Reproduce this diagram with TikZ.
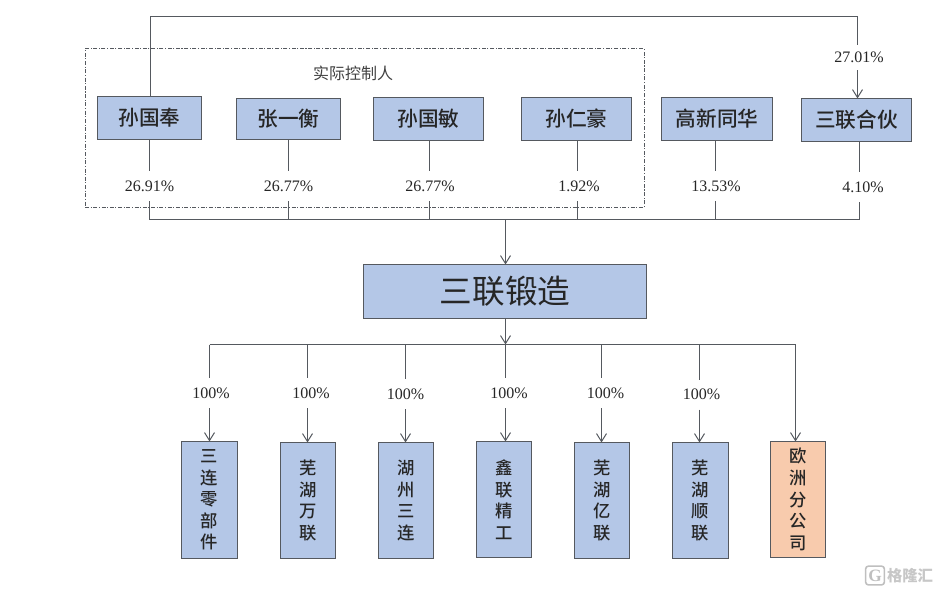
\documentclass[tikz,border=0pt]{standalone}
\usepackage{fontspec}
\setmainfont{Liberation Serif}
\newfontfamily\cjk{Noto Sans CJK SC}
\newfontfamily\cjkmed{Noto Sans CJK SC Medium}
\usetikzlibrary{arrows.meta}
\definecolor{boxblue}{HTML}{B4C7E7}
\definecolor{boxorange}{HTML}{F8CBAD}
\definecolor{edgegray}{HTML}{55595F}
\tikzset{
  holder/.style={draw=edgegray,line width=1pt,fill=boxblue,inner sep=0pt,outer sep=0pt,text=black!85,
    minimum height=32.25pt,font=\cjkmed\fontsize{15.5}{18}\selectfont},
  subsid/.style={draw=edgegray,line width=1pt,fill=boxblue,inner sep=0pt,outer sep=0pt,text=black!85,
    align=center,minimum width=41.25pt,minimum height=87pt,font=\cjkmed\fontsize{13}{16.2}\selectfont},
  pct/.style={inner sep=0pt,outer sep=0pt,minimum height=22.5pt,text=black!85,font=\fontsize{12}{14}\selectfont},
  conn/.style={draw=edgegray,line width=0.75pt},
  arr/.style={conn,-{Straight Barb[length=6pt,width=7.5pt]}}
}
\begin{document}
\begin{tikzpicture}[x=0.75pt,y=-0.75pt]
  \useasboundingbox (0,0) rectangle (939,592);

  % shareholders
  \node (ctrl) at (364.5,128) [draw=edgegray,line width=0.6pt,dash pattern=on 3pt off 1.2pt on 0.8pt off 1.2pt,
    minimum width=419.25pt,minimum height=119.25pt,inner sep=0pt,outer sep=0pt] {};
  \node (ctrltext) at (353,73) [text=black!75,font=\cjk\fontsize{12}{14}\selectfont] {实际控制人};

  \node (sgf) at (149.5,118) [holder,minimum width=78pt] {孙国奉};
  \node (zyh) at (288.5,119) [holder,minimum width=78pt,minimum height=30.75pt] {张一衡};
  \node (sgm) at (428.5,119) [holder,minimum width=82.5pt] {孙国敏};
  \node (srh) at (576.5,119) [holder,minimum width=82.5pt] {孙仁豪};
  \node (gxth) at (717,119) [holder,minimum width=83.25pt] {高新同华};
  \node (slhh) at (856.5,120) [holder,minimum width=82.5pt] {三联合伙};

  \node (p1) at (149.5,186) [pct] {26.91\%};
  \node (p2) at (288.5,186) [pct] {26.77\%};
  \node (p3) at (430,186) [pct] {26.77\%};
  \node (p4) at (579,186) [pct] {1.92\%};
  \node (p5) at (716,186) [pct] {13.53\%};
  \node (p6) at (863,187) [pct] {4.10\%};
  \node (p7) at (859,57.5) [pct,minimum height=19pt] {27.01\%};

  \coordinate (b1) at (149.5,219.5);
  \coordinate (b2) at (288.5,219.5);
  \coordinate (b3) at (429.5,219.5);
  \coordinate (b4) at (577.5,219.5);
  \coordinate (b5) at (715.5,219.5);
  \coordinate (b6) at (859.5,219.5);
  \coordinate (hub) at (505.5,219.5);
  \coordinate (ul) at (150.5,16.5);
  \coordinate (ur) at (857.5,16.5);

  \draw [conn] (b1 |- sgf.south) -- (b1 |- p1.north) (b1 |- p1.south) -- (b1);
  \draw [conn] (b2 |- zyh.south) -- (b2 |- p2.north) (b2 |- p2.south) -- (b2);
  \draw [conn] (b3 |- sgm.south) -- (b3 |- p3.north) (b3 |- p3.south) -- (b3);
  \draw [conn] (b4 |- srh.south) -- (b4 |- p4.north) (b4 |- p4.south) -- (b4);
  \draw [conn] (b5 |- gxth.south) -- (b5 |- p5.north) (b5 |- p5.south) -- (b5);
  \draw [conn] (b6 |- slhh.south) -- (b6 |- p6.north) (b6 |- p6.south) -- (b6);
  \draw [conn] (b1) -- (b6);

  \draw [conn] (ul |- sgf.north) -- (ul) -- (ur) -- (ur |- p7.north);
  \draw [arr] (ur |- p7.south) -- (ur |- slhh.north);

  % company
  \node (main) at (505,291.5) [holder,minimum width=212.25pt,minimum height=40.5pt,font=\cjk\fontsize{24.5}{28}\selectfont] {三联锻造};
  \coordinate (hub2) at (505.5,344.5);
  \draw [arr] (hub) -- (hub |- main.north);
  \draw [arr] (hub |- main.south) -- (hub2);

  % subsidiaries
  \node (c1) at (209.5,500) [subsid,minimum width=42pt,minimum height=87.75pt] {三\\连\\零\\部\\件};
  \node (c2) at (308,500.5) [subsid] {芜\\湖\\万\\联};
  \node (c3) at (406,500.5) [subsid] {湖\\州\\三\\连};
  \node (c4) at (504,499.5) [subsid] {鑫\\联\\精\\工};
  \node (c5) at (602,500.5) [subsid] {芜\\湖\\亿\\联};
  \node (c6) at (700.5,500.5) [subsid,minimum width=42pt] {芜\\湖\\顺\\联};
  \node (c7) at (798,499.5) [subsid,fill=boxorange] {欧\\洲\\分\\公\\司};

  \node (q1) at (211,393) [pct] {100\%};
  \node (q2) at (311,393) [pct] {100\%};
  \node (q3) at (405.5,394) [pct] {100\%};
  \node (q4) at (509,393) [pct] {100\%};
  \node (q5) at (605.5,393) [pct] {100\%};
  \node (q6) at (701.5,394.5) [pct] {100\%};

  \coordinate (d1) at (209.5,344.5);
  \coordinate (d2) at (307.5,344.5);
  \coordinate (d3) at (405.5,344.5);
  \coordinate (d4) at (505.5,344.5);
  \coordinate (d5) at (601.5,344.5);
  \coordinate (d6) at (699.5,344.5);
  \coordinate (d7) at (795.5,344.5);

  \draw [conn] (d1) -- (d7);
  \draw [conn] (d1) -- (d1 |- q1.north);
  \draw [conn] (d2) -- (d2 |- q2.north);
  \draw [conn] (d3) -- (d3 |- q3.north);
  \draw [conn] (d4) -- (d4 |- q4.north);
  \draw [conn] (d5) -- (d5 |- q5.north);
  \draw [conn] (d6) -- (d6 |- q6.north);
  \draw [arr] (d1 |- q1.south) -- (d1 |- c1.north);
  \draw [arr] (d2 |- q2.south) -- (d2 |- c2.north);
  \draw [arr] (d3 |- q3.south) -- (d3 |- c3.north);
  \draw [arr] (d4 |- q4.south) -- (d4 |- c4.north);
  \draw [arr] (d5 |- q5.south) -- (d5 |- c5.north);
  \draw [arr] (d6 |- q6.south) -- (d6 |- c6.north);
  \draw [arr] (d7) -- (d7 |- c7.north);

  % logo
  \node (logo) at (875,575.5) [draw=black!25,line width=1.2pt,rounded corners=2pt,inner sep=0pt,minimum size=14pt,
    text=black!25,font=\bfseries\fontsize{13}{14}\selectfont] {G};
  \node (logotext) at (910,575.5) [text=black!22,inner sep=0pt,font=\cjk\bfseries\fontsize{11.5}{13}\selectfont] {格隆汇};
\end{tikzpicture}
\end{document}
